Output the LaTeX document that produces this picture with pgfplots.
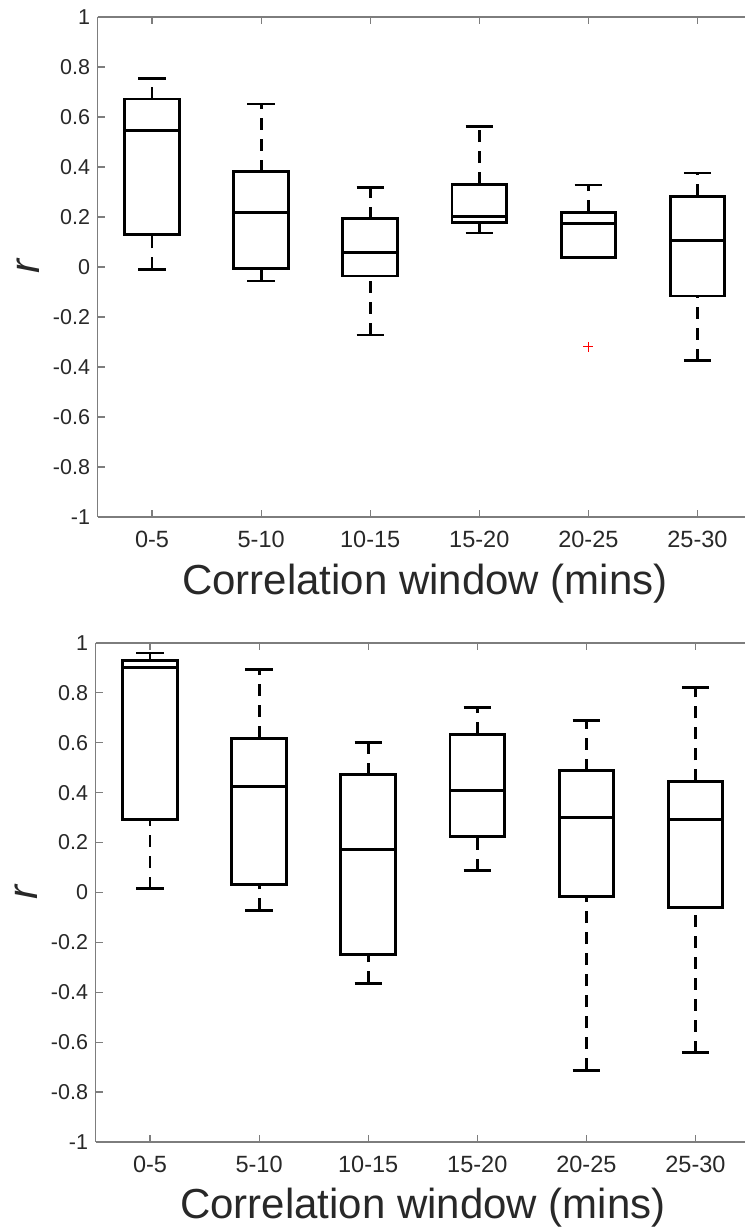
\documentclass[border=0pt]{standalone}
\usepackage{pgfplots}
\pgfplotsset{compat=1.18}
\usepgfplotslibrary{statistics}
\usepackage{fontspec}
\setmainfont{Liberation Sans}
\definecolor{axgray}{RGB}{125,125,125}
\definecolor{lblgray}{RGB}{40,40,40}

\pgfplotsset{
  mybox/.style={
    scale only axis, width=654.5pt, height=500pt,
    xmin=0.5, xmax=6.5, ymin=-1, ymax=1,
    axis x line*=box, axis y line*=left,
    x axis line style={-}, y axis line style={-},
    xtick pos=both, ytick pos=left,
    xtick={1,2,3,4,5,6},
    xticklabels={0-5,5-10,10-15,15-20,20-25,25-30},
    ytick={-1,-0.8,-0.6,-0.4,-0.2,0,0.2,0.4,0.6,0.8,1},
    yticklabels={-1,-0.8,-0.6,-0.4,-0.2,0,0.2,0.4,0.6,0.8,1},
    tick align=inside, major tick length=7pt,
    axis line style={axgray, line width=1.2pt},
    major tick style={axgray, line width=1.2pt},
    yticklabel style={font=\fontsize{21.5}{25}\selectfont, text=lblgray, xshift=-4pt},
    xticklabel style={font=\fontsize{23.5}{27}\selectfont, text=lblgray, yshift=-11pt},
    every axis x label/.style={at={(axis description cs:0.5,0)}, anchor=base, yshift=-78pt, font=\fontsize{42}{48}\selectfont, text=lblgray},
    every axis y label/.style={at={(axis description cs:0,0.5)}, xshift=-69pt, rotate=90, anchor=center, font=\fontsize{42}{48}\selectfont\itshape, text=lblgray},
    xlabel={Correlation window (mins)},
    ylabel={r},
    boxplot/draw direction=y,
    boxplot/box extend=0.5,
    boxplot/whisker extend=0.25,
    boxplot/every box/.style={draw=black, line width=2.9pt},
    boxplot/every median/.style={draw=black, line width=2.9pt},
    boxplot/draw/lower whisker/.code={%
      \draw[black, line width=2.9pt, dash pattern=on 12pt off 9pt]
        (boxplot cs:\pgfplotsboxplotvalue{lower whisker}) -- (boxplot cs:\pgfplotsboxplotvalue{lower quartile});
      \draw[black, line width=2.9pt]
        (boxplot whisker cs:\pgfplotsboxplotvalue{lower whisker},0) -- (boxplot whisker cs:\pgfplotsboxplotvalue{lower whisker},1);
    },
    boxplot/draw/upper whisker/.code={%
      \draw[black, line width=2.9pt, dash pattern=on 12pt off 9pt]
        (boxplot cs:\pgfplotsboxplotvalue{upper quartile}) -- (boxplot cs:\pgfplotsboxplotvalue{upper whisker});
      \draw[black, line width=2.9pt]
        (boxplot whisker cs:\pgfplotsboxplotvalue{upper whisker},0) -- (boxplot whisker cs:\pgfplotsboxplotvalue{upper whisker},1);
    },
  },
}

\begin{document}
\begin{tikzpicture}
% ---------- top panel ----------
\begin{axis}[mybox, at={(97.5pt,713pt)}, anchor=south west]
\addplot[black, boxplot prepared={draw position=1, lower whisker=-0.01, lower quartile=0.13, median=0.545, upper quartile=0.672, upper whisker=0.755}] coordinates {};
\addplot[black, boxplot prepared={draw position=2, lower whisker=-0.056, lower quartile=-0.007, median=0.217, upper quartile=0.381, upper whisker=0.652}] coordinates {};
\addplot[black, boxplot prepared={draw position=3, lower whisker=-0.272, lower quartile=-0.036, median=0.059, upper quartile=0.193, upper whisker=0.319}] coordinates {};
\addplot[black, boxplot prepared={draw position=4, lower whisker=0.136, lower quartile=0.179, median=0.201, upper quartile=0.331, upper whisker=0.563}] coordinates {};
\addplot[black, boxplot prepared={draw position=5, lower whisker=0.037, lower quartile=0.037, median=0.175, upper quartile=0.219, upper whisker=0.328}] coordinates {};
\addplot[black, boxplot prepared={draw position=6, lower whisker=-0.375, lower quartile=-0.116, median=0.105, upper quartile=0.283, upper whisker=0.376}] coordinates {};
\addplot[only marks, mark=+, red, mark size=5pt, line width=1pt] coordinates {(5,-0.32)};
\end{axis}
% ---------- bottom panel ----------
\begin{axis}[mybox, at={(95.5pt,88pt)}, anchor=south west, height=499pt,
  every axis x label/.append style={yshift=2pt}]
\addplot[black, boxplot prepared={draw position=1, lower whisker=0.016, lower quartile=0.292, median=0.901, upper quartile=0.931, upper whisker=0.96}] coordinates {};
\addplot[black, boxplot prepared={draw position=2, lower whisker=-0.072, lower quartile=0.032, median=0.425, upper quartile=0.619, upper whisker=0.895}] coordinates {};
\addplot[black, boxplot prepared={draw position=3, lower whisker=-0.363, lower quartile=-0.248, median=0.173, upper quartile=0.472, upper whisker=0.601}] coordinates {};
\addplot[black, boxplot prepared={draw position=4, lower whisker=0.088, lower quartile=0.224, median=0.409, upper quartile=0.635, upper whisker=0.741}] coordinates {};
\addplot[black, boxplot prepared={draw position=5, lower whisker=-0.712, lower quartile=-0.015, median=0.299, upper quartile=0.488, upper whisker=0.688}] coordinates {};
\addplot[black, boxplot prepared={draw position=6, lower whisker=-0.643, lower quartile=-0.061, median=0.291, upper quartile=0.445, upper whisker=0.821}] coordinates {};
\end{axis}
\pgfresetboundingbox
\path[use as bounding box] (0,0) rectangle (744pt,1230pt);
\end{tikzpicture}
\end{document}
